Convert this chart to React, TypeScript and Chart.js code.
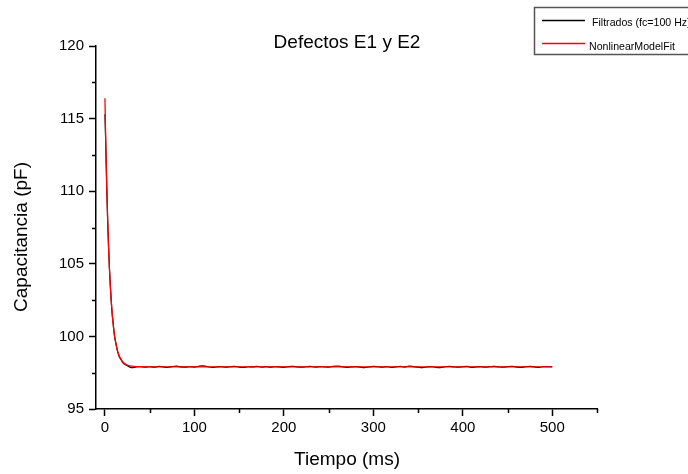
import React, { useEffect, useRef } from "react";
import { Chart, registerables } from "chart.js";

Chart.register(...registerables);

const chartTitle = "Defectos E1 y E2";
const xTitle = "Tiempo (ms)";
const yTitle = "Capacitancia (pF)";
const seriesNames = ["Filtrados (fc=100 Hz)", "NonlinearModelFit"];

const xMajorTicks = [0, 100, 200, 300, 400, 500];
const xMinorTicks = [50, 150, 250, 350, 450, 550];
const yMajorTicks = [95, 100, 105, 110, 115, 120];
const yMinorTicks = [97.5, 102.5, 107.5, 112.5, 117.5];

const filtradosTime = [
  0, 1, 2, 3, 4, 5, 6, 7, 8, 9, 10, 11, 12, 13, 14, 15, 16, 17, 18, 19, 20,
  25, 30, 35, 40, 45, 50, 55, 60, 65, 70, 75, 80, 85, 90, 95, 100,
  105, 110, 115, 120, 125, 130, 135, 140, 145, 150, 155, 160, 165, 170, 175, 180, 185, 190, 195, 200,
  205, 210, 215, 220, 225, 230, 235, 240, 245, 250, 255, 260, 265, 270, 275, 280, 285, 290, 295, 300,
  305, 310, 315, 320, 325, 330, 335, 340, 345, 350, 355, 360, 365, 370, 375, 380, 385, 390, 395, 400,
  405, 410, 415, 420, 425, 430, 435, 440, 445, 450, 455, 460, 465, 470, 475, 480, 485, 490, 495, 500,
];
const filtradosValues = [
  115.3, 113.0, 110.4, 108.1, 106.3, 104.7, 103.5, 102.5, 101.6, 101.0, 100.4, 99.9, 99.6, 99.3, 99.0, 98.8, 98.6, 98.5, 98.4, 98.3, 98.2,
  97.98, 97.84, 97.9, 97.92, 97.89, 97.91, 97.88, 97.93, 97.9, 97.87, 97.92, 97.95, 97.9, 97.88, 97.91, 97.89,
  97.94, 97.97, 97.91, 97.86, 97.9, 97.92, 97.88, 97.91, 97.93, 97.89, 97.87, 97.91, 97.9, 97.93, 97.89, 97.92, 97.88, 97.91, 97.9, 97.87,
  97.92, 97.94, 97.9, 97.88, 97.91, 97.93, 97.89, 97.92, 97.9, 97.88, 97.93, 97.96, 97.91, 97.87, 97.9, 97.92, 97.89, 97.85, 97.9, 97.93,
  97.91, 97.88, 97.92, 97.86, 97.9, 97.93, 97.89, 97.96, 97.92, 97.88, 97.85, 97.9, 97.92, 97.87, 97.85, 97.91, 97.93, 97.9, 97.88, 97.91,
  97.93, 97.86, 97.9, 97.92, 97.89, 97.91, 97.93, 97.9, 97.88, 97.92, 97.94, 97.89, 97.86, 97.91, 97.93, 97.9, 97.87, 97.91, 97.92, 97.9,
];

const fitTime = [
  0, 1, 2, 3, 4, 5, 6, 7, 8, 9, 10, 11, 12, 13, 14, 15, 16, 17, 18, 19, 20,
  25, 30, 35, 40, 50, 100, 150, 200, 250, 300, 350, 400, 450, 500,
];
const fitValues = [
  116.4, 113.05, 110.3, 108.05, 106.2, 104.7, 103.47, 102.46, 101.64, 100.96, 100.4, 99.95, 99.58, 99.28, 99.02, 98.82, 98.65, 98.52, 98.41, 98.32, 98.24,
  98.02, 97.95, 97.92, 97.91, 97.9, 97.9, 97.9, 97.9, 97.9, 97.9, 97.9, 97.9, 97.9, 97.9,
];

const FONT = "'Liberation Sans', Arial, sans-serif";

const overlayPlugin = {
  id: "overlay",
  afterDraw(chart: any) {
    const ctx = chart.ctx;
    const xs = chart.scales.x;
    const ys = chart.scales.y;
    const area = chart.chartArea;
    ctx.save();
    // minor ticks
    ctx.strokeStyle = "#000";
    ctx.lineWidth = 1.5;
    ctx.beginPath();
    xMinorTicks.forEach((v) => {
      const px = Math.round(xs.getPixelForValue(v)) + 0.5;
      ctx.moveTo(px, area.bottom);
      ctx.lineTo(px, area.bottom + 4);
    });
    yMinorTicks.forEach((v) => {
      const py = Math.round(ys.getPixelForValue(v)) + 0.5;
      ctx.moveTo(area.left, py);
      ctx.lineTo(area.left - 4, py);
    });
    ctx.stroke();

    // title
    ctx.fillStyle = "#000";
    ctx.font = `19px ${FONT}`;
    ctx.textAlign = "center";
    ctx.textBaseline = "alphabetic";
    ctx.fillText(chartTitle, 347, 48);

    // x axis title
    ctx.fillText(xTitle, 347, 465);

    // y axis title
    ctx.save();
    ctx.translate(27, 237);
    ctx.rotate(-Math.PI / 2);
    ctx.fillText(yTitle, 0, 0);
    ctx.restore();

    // legend
    ctx.lineWidth = 1.5;
    ctx.strokeStyle = "#555";
    ctx.strokeRect(534.5, 7.5, 200, 47);
    ctx.lineWidth = 1.3;
    ctx.strokeStyle = "#000";
    ctx.beginPath();
    ctx.moveTo(542, 20.5);
    ctx.lineTo(585, 20.5);
    ctx.stroke();
    ctx.strokeStyle = "#ff0000";
    ctx.beginPath();
    ctx.moveTo(542, 43.5);
    ctx.lineTo(585, 43.5);
    ctx.stroke();
    ctx.font = `10.6px ${FONT}`;
    ctx.textAlign = "left";
    ctx.textBaseline = "middle";
    ctx.fillStyle = "#000";
    ctx.fillText(seriesNames[0], 592, 23.5);
    ctx.fillText(seriesNames[1], 589, 47);
    ctx.restore();
  },
};

export default function App() {
  const canvasRef = useRef<HTMLCanvasElement | null>(null);

  useEffect(() => {
    const canvas = canvasRef.current;
    if (!canvas) return;
    const chart = new Chart(canvas, {
      type: "line",
      data: {
        datasets: [
          {
            label: seriesNames[0],
            data: filtradosTime.map((t, i) => ({ x: t, y: filtradosValues[i] })),
            borderColor: "#000000",
            borderWidth: 1.2,
            pointRadius: 0,
            fill: false,
            tension: 0.4,
            cubicInterpolationMode: "monotone",
            order: 2,
          },
          {
            label: seriesNames[1],
            data: fitTime.map((t, i) => ({ x: t, y: fitValues[i] })),
            borderColor: "#ff0000",
            borderWidth: 1.3,
            pointRadius: 0,
            fill: false,
            cubicInterpolationMode: "monotone",
            order: 1,
          },
        ],
      },
      options: {
        responsive: false,
        animation: false,
        layout: { padding: { top: 46, right: 91, left: 0, bottom: 0 } },
        plugins: {
          legend: { display: false },
          title: { display: false },
          tooltip: { enabled: false },
        },
        scales: {
          x: {
            type: "linear",
            min: -10,
            max: 550,
            afterBuildTicks: (scale: any) => {
              scale.ticks = xMajorTicks.map((v) => ({ value: v }));
            },
            afterFit: (scale: any) => {
              scale.height = 65;
            },
            grid: {
              drawOnChartArea: false,
              drawTicks: true,
              tickLength: 7,
              tickWidth: 1.5,
              tickColor: "#000",
            },
            border: { display: true, color: "#000", width: 1.5 },
            ticks: {
              color: "#000",
              font: { family: FONT, size: 15 },
              padding: 3,
              maxRotation: 0,
              autoSkip: false,
            },
          },
          y: {
            type: "linear",
            min: 95,
            max: 120,
            afterBuildTicks: (scale: any) => {
              scale.ticks = yMajorTicks.map((v) => ({ value: v }));
            },
            afterFit: (scale: any) => {
              scale.width = 96;
            },
            grid: {
              drawOnChartArea: false,
              drawTicks: true,
              tickLength: 7,
              tickWidth: 1.5,
              tickColor: "#000",
            },
            border: { display: true, color: "#000", width: 1.5 },
            ticks: {
              color: "#000",
              font: { family: FONT, size: 15 },
              padding: 5,
              autoSkip: false,
            },
          },
        },
      },
      plugins: [overlayPlugin],
    } as any);
    return () => chart.destroy();
  }, []);

  return (
    <div
      style={{
        position: "absolute",
        left: 0,
        top: 0,
        width: 688,
        height: 474,
        background: "#fff",
      }}
    >
      <canvas ref={canvasRef} width={688} height={474} style={{ display: "block" }} />
    </div>
  );
}
